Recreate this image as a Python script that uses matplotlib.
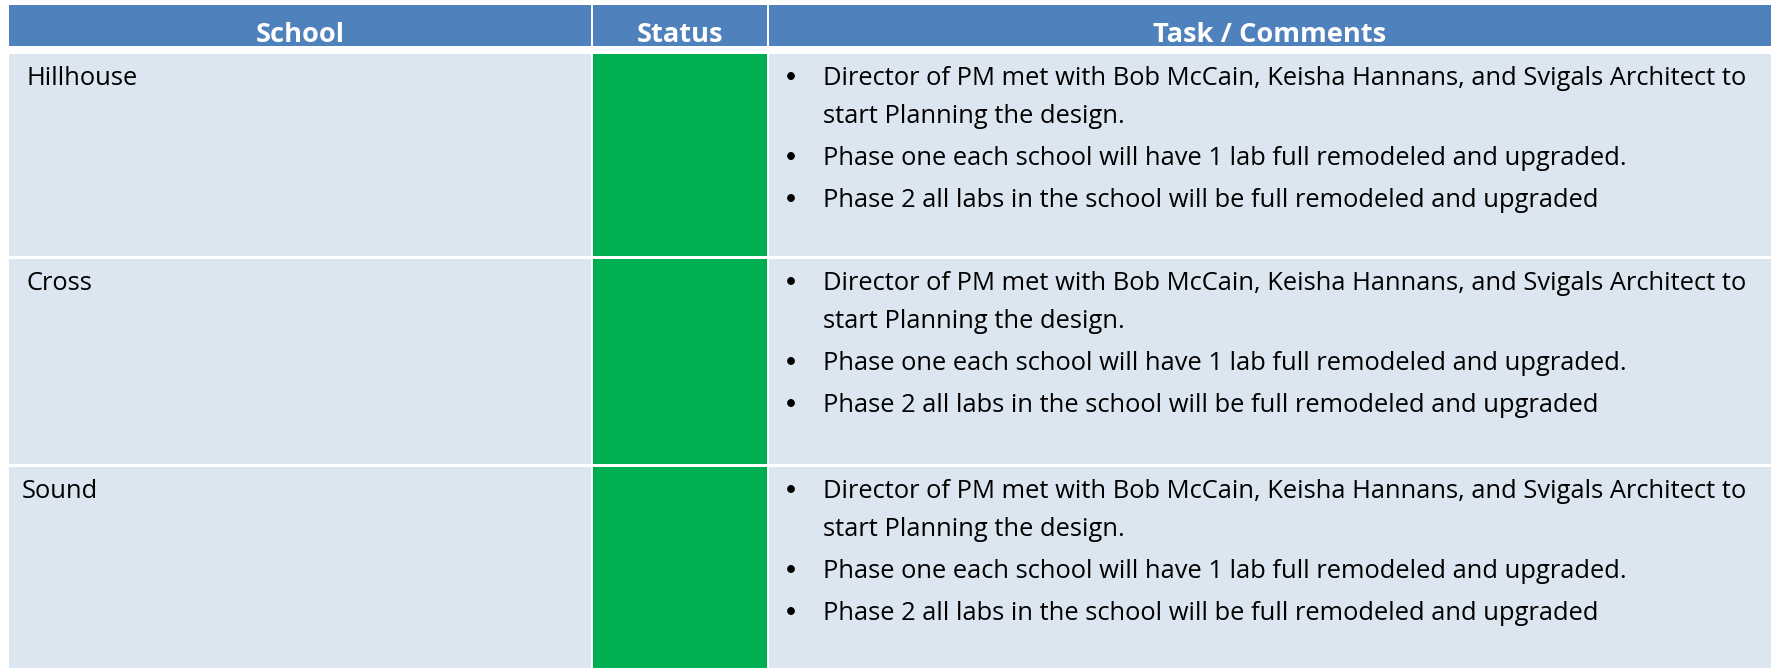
import matplotlib.pyplot as plt
from matplotlib.patches import Rectangle

headers = ['School', 'Status', 'Task / Comments']
schools = ['Hillhouse', 'Cross', 'Sound']
status_colors = ['#00B050', '#00B050', '#00B050']
comments = [
    ['Director of PM met with Bob McCain, Keisha Hannans, and Svigals Architect to\nstart Planning the design.',
     'Phase one each school will have 1 lab full remodeled and upgraded.',
     'Phase 2 all labs in the school will be full remodeled and upgraded'],
] * 3
school_x = [27, 27, 22]

W, H = 1771, 668
header_blue = '#4F81BD'
body_blue = '#DCE6F1'
font = 'Open Sans'

fig = plt.figure(figsize=(W / 100, H / 100), dpi=100)
ax = fig.add_axes([0, 0, 1, 1])
ax.set_xlim(0, W)
ax.set_ylim(H, 0)
ax.axis('off')

cols = [(9, 591), (593, 767), (769, 1771)]
rows = [(54, 256), (259, 464), (467, 668)]
hdr = (5, 46)

# header
for (x0, x1), name in zip(cols, headers):
    ax.add_patch(Rectangle((x0, hdr[0]), x1 - x0, hdr[1] - hdr[0], color=header_blue, lw=0))
    ax.text((x0 + x1) / 2, 42, name, ha='center', va='baseline', color='white',
            fontsize=19.6, fontweight='bold', family=font)

body_fs = 18.4
for i, (y0, y1) in enumerate(rows):
    ax.add_patch(Rectangle((cols[0][0], y0), cols[0][1] - cols[0][0], y1 - y0, color=body_blue, lw=0))
    ax.add_patch(Rectangle((cols[1][0], y0), cols[1][1] - cols[1][0], y1 - y0, color=status_colors[i], lw=0))
    ax.add_patch(Rectangle((cols[2][0], y0), cols[2][1] - cols[2][0], y1 - y0, color=body_blue, lw=0))

    base = y0 + 31
    ax.text(school_x[i], base, schools[i], ha='left', va='baseline', fontsize=body_fs,
            family=font, color='black')
    for item in comments[i]:
        ax.text(791, base - 2, '\u2022', ha='center', va='baseline', fontsize=15,
                family='Lato', color='black')
        lines = item.split('\n')
        for ln in lines:
            ax.text(823, base, ln, ha='left', va='baseline', fontsize=body_fs,
                    family=font, color='black')
            base += 38
        base += 4

fig.savefig('out.png', dpi=100)
